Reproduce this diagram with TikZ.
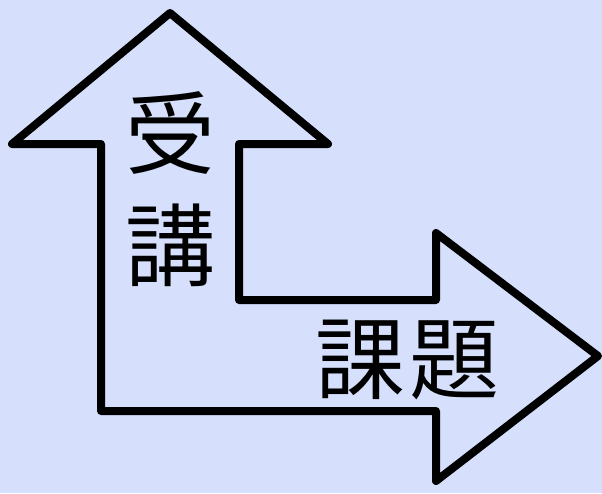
\documentclass[tikz,border=0pt]{standalone}
\usepackage{fontspec}
\newfontfamily\cjk{Noto Sans CJK JP}
\definecolor{bg}{RGB}{214,224,252}
\begin{document}
\begin{tikzpicture}[x=1pt,y=-1pt,
  outline/.style={draw=black,line width=8pt,line join=round},
  kanji/.style={font=\cjk\fontsize{90}{90}\selectfont,inner sep=0pt}]
\fill[bg] (0,0) rectangle (602,493);
\useasboundingbox (0,0) rectangle (602,493);
\coordinate (tip) at (170,13);
\coordinate (rtip) at (598,356);
\draw[outline] (tip) -- (328,144) -- (239,144) -- (239,300) -- (436,300) -- (436,233)
  -- (rtip) -- (436,481) -- (436,411) -- (101,411) -- (101,144) -- (12,144) -- cycle;
\node[kanji] (ju) at (170,133) {受};
\node[kanji] (ko) at (170,245) {講};
\node[kanji] (ka) at (360,360) {課};
\node[kanji] (dai) at (454,360) {題};
\end{tikzpicture}
\end{document}
